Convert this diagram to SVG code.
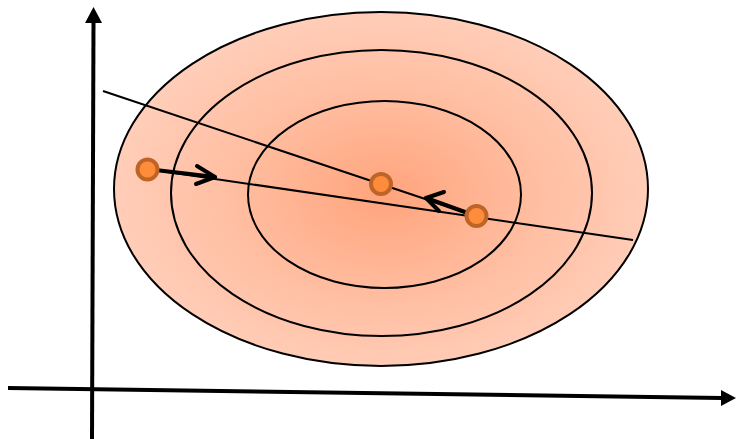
<svg xmlns="http://www.w3.org/2000/svg" width="736" height="439" viewBox="0 0 736 439">
<style>
.ring{fill:none;stroke:#000;stroke-width:2}
.thin{stroke:#000;stroke-width:2;fill:none}
.thick{stroke:#000;stroke-width:4;fill:none;stroke-linecap:round;stroke-linejoin:round}
.axis{stroke:#000;stroke-width:4;fill:none}
.pt{fill:#FF8C3A;stroke:#BF6428;stroke-width:4}
</style>
<defs>
<radialGradient id="g" cx="385" cy="195" r="267" gradientUnits="userSpaceOnUse" gradientTransform="translate(385 195) scale(1 0.68) translate(-385 -195)">
<stop offset="0" stop-color="#FFA47C"/>
<stop offset="0.6" stop-color="#FFBFA3"/>
<stop offset="1" stop-color="#FFCDB8"/>
</radialGradient>
</defs>
<g id="contours">
<ellipse cx="381" cy="189" rx="267" ry="177" fill="url(#g)" stroke="#000" stroke-width="2"/>
<ellipse class="ring" cx="381.5" cy="193" rx="210.5" ry="143"/>
<ellipse class="ring" cx="384.5" cy="194.5" rx="136.5" ry="93.5"/>
</g>
<g id="axes">
<line class="axis" x1="92" y1="439" x2="93.5" y2="22"/>
<polygon points="93.5,7 85,23 102,23"/>
<line class="axis" x1="8" y1="388" x2="722" y2="398"/>
<polygon points="736,398 721,390 721,406"/>
</g>
<g id="connectors">
<line class="thin" x1="103" y1="91" x2="476" y2="216"/>
<line class="thin" x1="147" y1="169" x2="633" y2="240"/>
<line class="thick" x1="147" y1="169" x2="215" y2="177"/>
<polyline class="thick" points="197,166 215,177 196,184"/>
<line class="thick" x1="476" y1="216" x2="426" y2="198"/>
<polyline class="thick" points="444,192 426,198 439,211"/>
</g>
<g id="p1"><circle class="pt" cx="147.5" cy="169.5" r="10"/></g>
<g id="p2"><circle class="pt" cx="381" cy="184" r="10"/></g>
<g id="p3"><circle class="pt" cx="476.5" cy="216" r="10"/></g>
</svg>
